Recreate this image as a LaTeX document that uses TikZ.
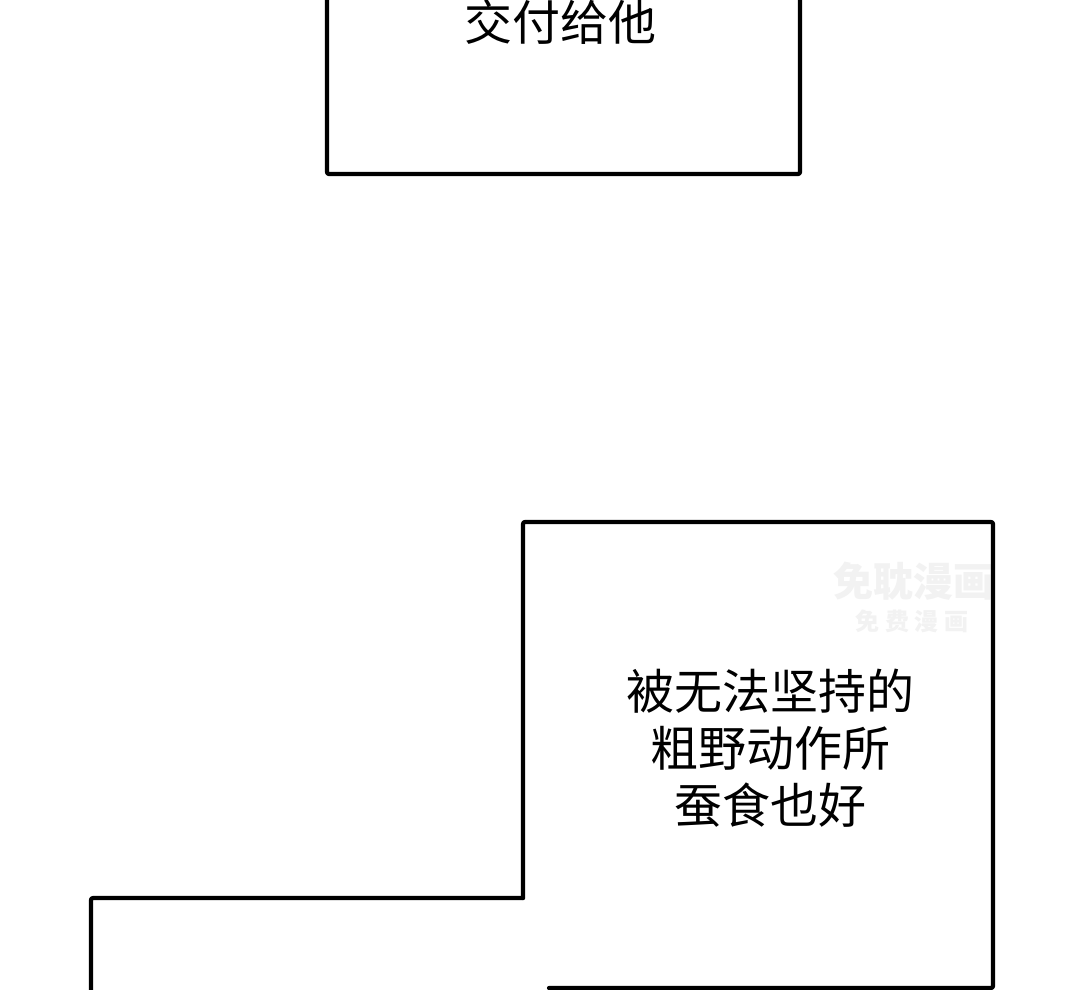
\documentclass[tikz,border=0pt]{standalone}
\usepackage{fontspec}
\newfontfamily\cjk{Noto Sans CJK SC}
\tikzset{
  panel/.style={draw=black, line width=4.2pt, line join=round, line cap=round, rounded corners=2pt},
  speech/.style={font=\cjk\fontsize{48}{57}\selectfont, text=black, align=center, inner sep=0pt},
  wmark/.style={font=\cjk\bfseries\fontsize{#1}{#1}\selectfont, text=black!5, inner sep=0pt}
}
\begin{document}
\begin{tikzpicture}[x=1pt,y=-1pt]
\useasboundingbox[fill=white] (0,0) rectangle (1080,990);
% watermark (under the panel borders)
\node[wmark=40] (w1) at (913,581) {免耽漫画};
\node[wmark=24] (w2) at (912,621) {免 费 漫 画};
% top panel
\draw[panel] (327,-10) -- (327,174) -- (800,174) -- (800,-10);
\node[speech] (t1) at (560,22) {交付给他};
% lower left panel
\draw[panel] (91,1000) -- (91,898) -- (523,898);
% right panel
\draw[panel] (549,988) -- (993,988) -- (993,522) -- (523,522) -- (523,898);
\node[speech] (t2) at (770,748) {被无法坚持的\\粗野动作所\\蚕食也好};
\end{tikzpicture}
\end{document}
